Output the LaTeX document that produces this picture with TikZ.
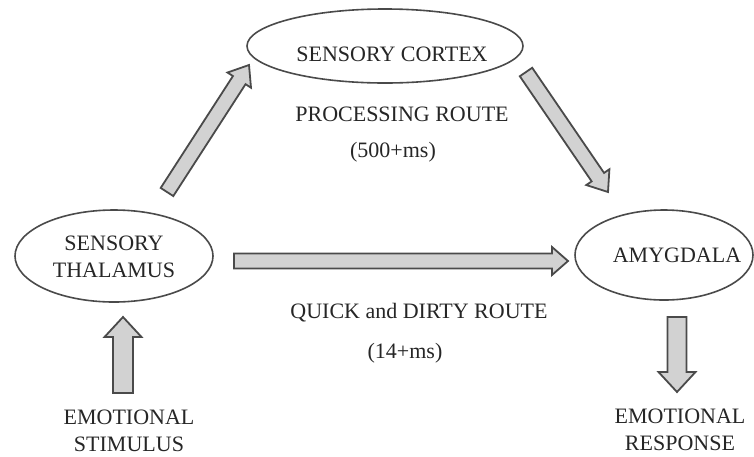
\documentclass[tikz,border=0pt]{standalone}
\usepackage{fontspec}
\setmainfont{Liberation Serif}
\usetikzlibrary{calc,shapes.geometric}
\definecolor{arrfill}{HTML}{D2D2D2}
\definecolor{arrdraw}{HTML}{4A4A4A}
\definecolor{inkc}{HTML}{262626}
\newcommand{\blockarrow}[5]{%
  \path[fatarrow]
    ($(#1)!#3!90:(#2)$) --
    ($($(#2)!#5!(#1)$)!#3!90:(#2)$) --
    ($($(#2)!#5!(#1)$)!#4!90:(#2)$) --
    (#2) --
    ($($(#2)!#5!(#1)$)!#4!-90:(#2)$) --
    ($($(#2)!#5!(#1)$)!#3!-90:(#2)$) --
    ($(#1)!#3!-90:(#2)$) -- cycle;}
\begin{document}
\begin{tikzpicture}[x=1pt,y=-1pt,
  txt/.style={font=\fontsize{22}{27}\selectfont, text=inkc, align=center, inner sep=0pt},
  oval/.style={ellipse, draw=arrdraw, line width=1.6pt, inner sep=0pt},
  fatarrow/.style={fill=arrfill, draw=arrdraw, line width=1.8pt, line join=miter}]
\useasboundingbox (0,0) rectangle (754,456);
% ellipses
\node[oval, minimum width=276pt, minimum height=74pt,
  label={[txt, xshift=7pt, yshift=-8pt]center:SENSORY CORTEX}] (cortex) at (385,46) {};
\node[oval, minimum width=198pt, minimum height=92pt,
  label={[txt, yshift=-1pt]center:SENSORY\\THALAMUS}] (thal) at (114,256) {};
\node[oval, minimum width=178pt, minimum height=90pt,
  label={[txt, xshift=13pt, yshift=0pt]center:AMYGDALA}] (amyg) at (664,255) {};
% texts
\node[txt] (proc) at (402,114) {PROCESSING ROUTE};
\node[txt] (pt) at (393,152) {(500+ms)};
\node[txt] (quick) at (419,313) {QUICK and DIRTY ROUTE};
\node[txt] (qt) at (405,353) {(14+ms)};
\node[txt] (stim) at (129,431) {EMOTIONAL\\STIMULUS};
\node[txt] (resp) at (680,430) {EMOTIONAL\\RESPONSE};
% arrow end points
\coordinate (a1s) at (167,192);
\coordinate (a1e) at (249,65);
\coordinate (a2s) at (526,72);
\coordinate (a2e) at (608,192);
\coordinate (a3s) at (234,261);
\coordinate (a3e) at (568,261);
\coordinate (a4s) at (123,393);
\coordinate (a4e) at (123,317);
\coordinate (a5s) at (677,317);
\coordinate (a5e) at (677,392);
\blockarrow{a1s}{a1e}{7.5pt}{14pt}{18pt}
\blockarrow{a2s}{a2e}{7.5pt}{14pt}{18pt}
\blockarrow{a3s}{a3e}{7.5pt}{14pt}{16pt}
\blockarrow{a4s}{a4e}{10pt}{18.5pt}{20pt}
\blockarrow{a5s}{a5e}{9.5pt}{18.5pt}{20pt}
\end{tikzpicture}
\end{document}
